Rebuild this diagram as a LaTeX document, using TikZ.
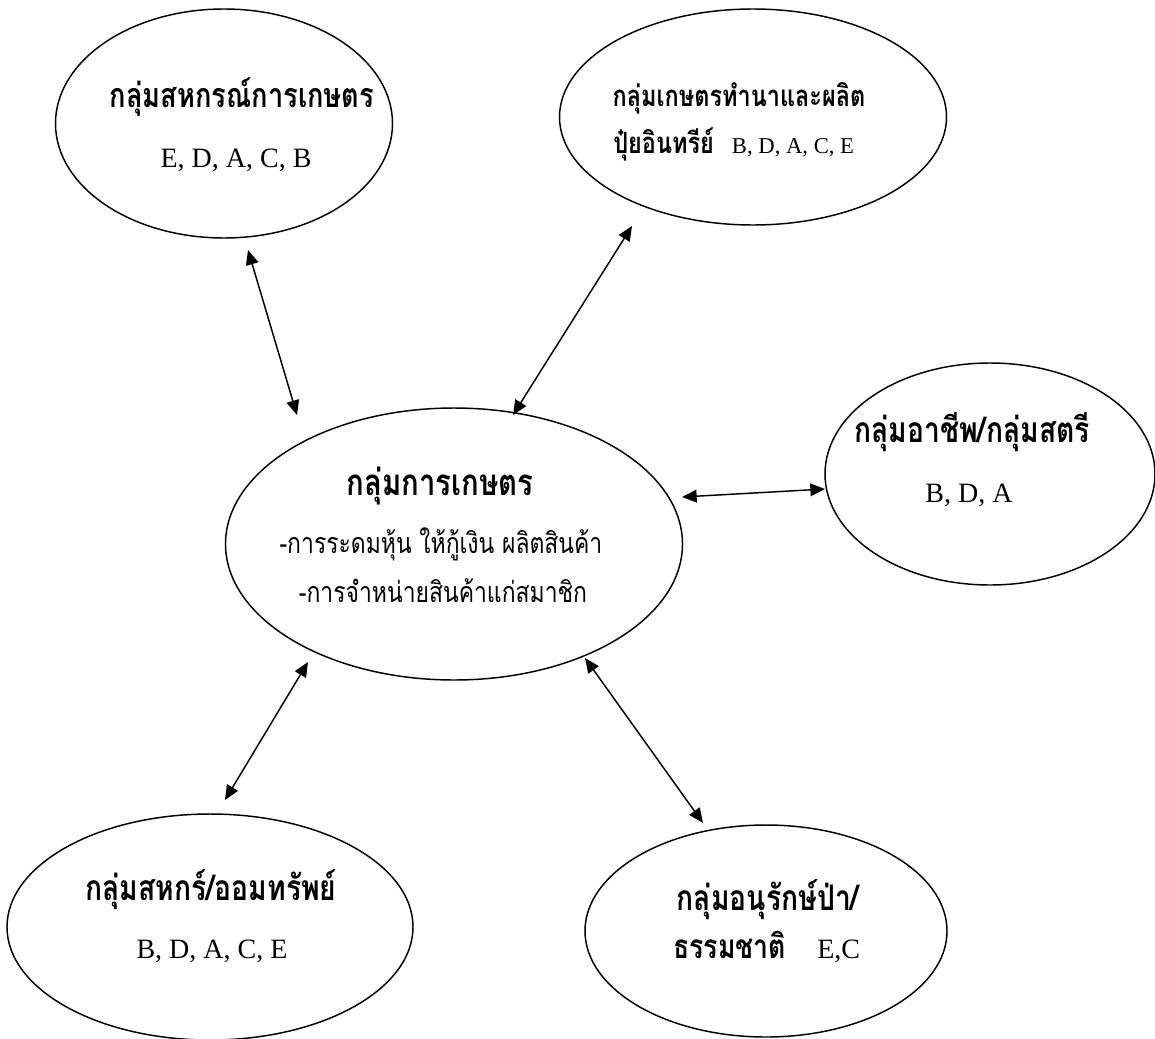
\documentclass[tikz,border=0pt]{standalone}
\usepackage{fontspec}
\setmainfont{Liberation Serif}
\newfontfamily\thai[Script=Thai,FakeStretch=0.8]{Loma}
\usetikzlibrary{shapes.geometric,arrows.meta}
\begin{document}
\begin{tikzpicture}[x=0.75pt,y=-0.75pt,
  grp/.style={draw, ellipse, line width=1.1pt, inner sep=0pt},
  link/.style={{Triangle[length=11pt,width=9.5pt]}-{Triangle[length=11pt,width=9.5pt]}, line width=1.1pt},
  txt/.style={anchor=base, inner sep=0pt},
  head/.style={font=\thai\bfseries\fontsize{26.5}{30}\selectfont},
  bighead/.style={font=\thai\bfseries\fontsize{27.5}{31}\selectfont},
  midhead/.style={font=\thai\bfseries\fontsize{22}{26}\selectfont},
  body/.style={font=\thai\fontsize{21.5}{25}\selectfont},
  codes/.style={font=\fontsize{21}{25}\selectfont},
  smallcodes/.style={font=\fontsize{17}{20}\selectfont}]
\useasboundingbox (0,0) rectangle (1155,1038);
% ellipses
\node[grp, minimum width=252.75pt, minimum height=171.75pt] (n1) at (224,123.5) {};
\node[grp, minimum width=290.25pt, minimum height=162pt] (n2) at (753,117) {};
\node[grp, minimum width=342.75pt, minimum height=204pt] (n3) at (454,544) {};
\node[grp, minimum width=247.5pt, minimum height=166.5pt] (n4) at (990,474) {};
\node[grp, minimum width=304.5pt, minimum height=169.5pt] (n5) at (210,927) {};
\node[grp, minimum width=271.5pt, minimum height=159pt] (n6) at (766,931) {};
% texts
\node[txt, head, font=\thai\bfseries\fontsize{25.5}{29}\selectfont] (t1a) at (242,108) {กลุ่มสหกรณ์การเกษตร};
\node[txt, codes] (t1b) at (236,167) {E, D, A, C, B};
\node[txt, midhead] (t2a) at (739,107) {กลุ่มเกษตรทำนาและผลิต};
\node[txt, smallcodes, anchor=base west] (t2b) at (613,153) {\makebox[89pt][l]{\thai\bfseries\fontsize{22}{26}\selectfont ปุ๋ยอินทรีย์}B, D, A, C, E};
\node[txt, bighead] (t3a) at (440,495) {กลุ่มการเกษตร};
\node[txt, body] (t3b) at (441,553) {-การระดมหุ้น ให้กู้เงิน ผลิตสินค้า};
\node[txt, body] (t3c) at (443,602) {-การจำหน่ายสินค้าแก่สมาชิก};
\node[txt, head] (t4a) at (972,442) {กลุ่มอาชีพ/กลุ่มสตรี};
\node[txt, codes] (t4b) at (969,502) {B, D, A};
\node[txt, head] (t5a) at (211,900) {กลุ่มสหกร์/ออมทรัพย์};
\node[txt, codes] (t5b) at (212,958) {B, D, A, C, E};
\node[txt, head] (t6a) at (768,910) {กลุ่มอนุรักษ์ป่า/};
\node[txt, codes, anchor=base west] (t6b) at (673,958) {\makebox[108pt][l]{\thai\bfseries\fontsize{25}{29}\selectfont ธรรมชาติ}E,C};
% connector ends
\coordinate (a1s) at (248,250); \coordinate (a1e) at (297,415);
\coordinate (a2s) at (632,226); \coordinate (a2e) at (513,415);
\coordinate (a3s) at (682,497); \coordinate (a3e) at (825,489);
\coordinate (a4s) at (308,662); \coordinate (a4e) at (225,800);
\coordinate (a5s) at (585,658); \coordinate (a5e) at (703,823);
\draw[link] (a1s) -- (a1e);
\draw[link] (a2s) -- (a2e);
\draw[link] (a3e) -- (a3s);
\draw[link] (a4s) -- (a4e);
\draw[link] (a5s) -- (a5e);
\end{tikzpicture}
\end{document}
